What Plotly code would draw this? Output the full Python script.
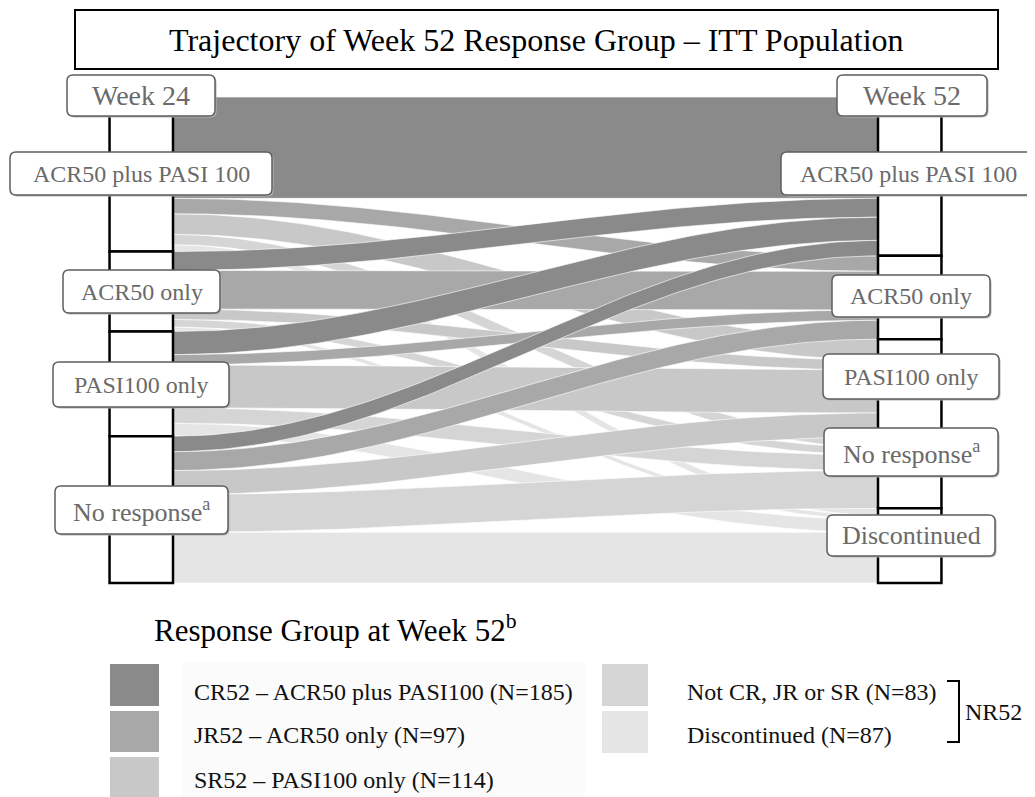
import numpy as np
import plotly.graph_objects as go

# ---------------- data ----------------
week24_groups = ["ACR50 plus PASI 100", "ACR50 only", "PASI100 only", "No response<sup>a</sup>"]
week52_groups = ["ACR50 plus PASI 100", "ACR50 only", "PASI100 only", "No response<sup>a</sup>", "Discontinued"]
legend_codes = ["CR52 – ACR50 plus PASI100", "JR52 – ACR50 only", "SR52 – PASI100 only",
                "Not CR, JR or SR", "Discontinued"]
legend_n = [185, 97, 114, 83, 87]
# patients moving from each Week 24 group (rows) to each Week 52 group (columns)
flow_acr_pasi = [118, 18, 24, 12, 8]
flow_acr_only = [22, 45, 12, 9, 5]
flow_pasi_only = [27, 12, 50, 18, 15]
flow_no_resp = [18, 22, 28, 44, 59]
flows = [flow_acr_pasi, flow_acr_only, flow_pasi_only, flow_no_resp]
group_colors = ["#8a8a8a", "#a8a8a8", "#c8c8c8", "#d5d5d5", "#e5e5e5"]

# ---------------- geometry helpers ----------------
OFF = 8  # page body margin of the html page
W, H = 1035 - OFF, 797 - OFF
FONT = "Liberation Serif, Times New Roman, serif"
F = np.array(flows, dtype=float)
src_tot = F.sum(axis=1)
tgt_tot = F.sum(axis=0)
total = F.sum()
src_cum = np.concatenate([[0], np.cumsum(src_tot)])
tgt_cum = np.concatenate([[0], np.cumsum(tgt_tot)])

# axes: x in stage units (0 = Week 24 edge, 1 = Week 52 edge), y in patients
px_per_x = 705.0
x_left_px = 173.0 - OFF
y_top_px = 97.0 - OFF
px_per_pt = 486.0 / total
x_range = [-x_left_px / px_per_x, (W - x_left_px) / px_per_x]
y_range = [(H - y_top_px) / px_per_pt, -y_top_px / px_per_pt]

# ribbon intervals
left_int = {}
off = src_cum[:-1].copy()
for i in range(F.shape[0]):
    for j in range(F.shape[1]):
        left_int[(i, j)] = (off[i], off[i] + F[i, j])
        off[i] += F[i, j]
right_int = {}
off = tgt_cum[:-1].copy()
for j in range(F.shape[1]):
    for i in range(F.shape[0]):
        right_int[(i, j)] = (off[j], off[j] + F[i, j])
        off[j] += F[i, j]

fig = go.Figure()
t = np.linspace(0, 1, 90)
s = (1 - np.cos(np.pi * t)) / 2
for j in reversed(range(F.shape[1])):
    for i in range(F.shape[0]):
        if F[i, j] <= 0:
            continue
        l0, l1 = left_int[(i, j)]
        r0, r1 = right_int[(i, j)]
        top = l0 + (r0 - l0) * s
        bot = l1 + (r1 - l1) * s
        fig.add_trace(go.Scatter(
            x=np.concatenate([t, t[::-1]]), y=np.concatenate([top, bot[::-1]]),
            mode="lines", fill="toself", fillcolor=group_colors[j],
            line=dict(color="rgba(255,255,255,0.9)", width=0.7),
            hoverinfo="skip", showlegend=False))

shapes = []
annotations = []
NODE_W = 0.09
for i in range(len(src_tot)):
    shapes.append(dict(type="rect", xref="x", yref="y", x0=-NODE_W, x1=0,
                       y0=src_cum[i], y1=src_cum[i + 1],
                       line=dict(color="black", width=2.5), fillcolor="white", layer="above"))
for j in range(len(tgt_tot)):
    shapes.append(dict(type="rect", xref="x", yref="y", x0=1, x1=1 + NODE_W,
                       y0=tgt_cum[j], y1=tgt_cum[j + 1],
                       line=dict(color="black", width=2.5), fillcolor="white", layer="above"))


def px(x):
    return (x - OFF) / W


def py(y):
    return 1 - (y - OFF) / H


def P(x, y):
    return f"{px(x):.5f},{py(y):.5f}"


def rrect(x0, y0, x1, y1, r=6):
    return ("M" + P(x0 + r, y0) + " L" + P(x1 - r, y0) + " Q" + P(x1, y0) + " " + P(x1, y0 + r) +
            " L" + P(x1, y1 - r) + " Q" + P(x1, y1) + " " + P(x1 - r, y1) +
            " L" + P(x0 + r, y1) + " Q" + P(x0, y1) + " " + P(x0, y1 - r) +
            " L" + P(x0, y0 + r) + " Q" + P(x0, y0) + " " + P(x0 + r, y0) + " Z")


def box_shapes(x0, y0, x1, y1):
    shapes.append(dict(type="path", xref="paper", yref="paper", path=rrect(x0 + 1.5, y0 + 1.5, x1 + 1.5, y1 + 1.5),
                       line=dict(width=0), fillcolor="#b5b5b5", layer="above"))
    shapes.append(dict(type="path", xref="paper", yref="paper", path=rrect(x0, y0, x1, y1),
                       line=dict(color="#5e5e5e", width=1.5), fillcolor="white", layer="above"))


def label_box(text, x0, y0, x1, y1, size=24, xc=None):
    box_shapes(x0, y0, x1, y1)
    if xc is None:
        xc = (x0 + x1) / 2
    annotations.append(dict(x=px(xc), y=py((y0 + y1) / 2), xref="paper", yref="paper",
                            text=text, showarrow=False, xanchor="center", yanchor="middle",
                            font=dict(family=FONT, size=size, color="#6a6a6a")))


label_box("Week 24", 67, 75, 215, 116, 28)
label_box("Week 52", 837, 75, 987, 116, 28)
left_boxes = [(10, 152, 272, 195, 24), (63, 270, 220, 313, 24), (53, 362, 229, 407, 24), (55, 486, 228, 534, 26)]
right_boxes = [(781, 152, 1040, 195, 24), (832, 275, 990, 317, 24), (823, 354, 999, 399, 24),
               (824, 428, 998, 476, 26), (827, 515, 995, 556, 26)]
for name, b in zip(week24_groups, left_boxes):
    label_box(name, *b)
for name, b in zip(week52_groups, right_boxes):
    x0, y0, x1, y1, sz = b
    # the top-right box runs off the right edge; its text sits on the visible part
    label_box(name, x0, y0, x1, y1, sz, xc=908 if x1 > 1035 else None)

# title box
shapes.append(dict(type="rect", xref="paper", yref="paper", x0=px(75), x1=px(998), y0=py(69), y1=py(10),
                   line=dict(color="black", width=2), fillcolor="white", layer="above"))
annotations.append(dict(x=px(536.5), y=py(40), xref="paper", yref="paper",
                        text="Trajectory of Week 52 Response Group – ITT Population", showarrow=False,
                        xanchor="center", yanchor="middle", font=dict(family=FONT, size=32, color="black")))

# legend
annotations.append(dict(x=px(152), y=py(628), xref="paper", yref="paper",
                        text="Response Group at Week 52<sup>b</sup>", showarrow=False,
                        xanchor="left", yanchor="middle", font=dict(family=FONT, size=31, color="black")))
shapes.append(dict(type="rect", xref="paper", yref="paper", x0=px(182), x1=px(585), y0=py(800), y1=py(663),
                   line=dict(width=0), fillcolor="#fbfbfb", layer="above"))
sw_pos = [(110, 664, 159, 706), (110, 711, 159, 752), (110, 757, 159, 800),
          (602, 664, 648, 706), (602, 711, 648, 753)]
txt_pos = [(192, 692), (192, 735), (192, 780), (685, 692), (685, 735)]
for k in range(5):
    x0, y0, x1, y1 = sw_pos[k]
    shapes.append(dict(type="rect", xref="paper", yref="paper", x0=px(x0), x1=px(x1), y0=py(y1), y1=py(y0),
                       line=dict(width=0), fillcolor=group_colors[k], layer="above"))
    tx, ty = txt_pos[k]
    annotations.append(dict(x=px(tx), y=py(ty), xref="paper", yref="paper",
                            text=f"{legend_codes[k]} (N={legend_n[k]})", showarrow=False,
                            xanchor="left", yanchor="middle", font=dict(family=FONT, size=24, color="#111111")))
shapes.append(dict(type="path", xref="paper", yref="paper",
                   path="M" + P(947, 681) + " L" + P(959, 681) + " L" + P(959, 742) + " L" + P(947, 742),
                   line=dict(color="black", width=2), layer="above"))
annotations.append(dict(x=px(963), y=py(712), xref="paper", yref="paper", text="NR52", showarrow=False,
                        xanchor="left", yanchor="middle", font=dict(family=FONT, size=24, color="#111111")))

fig.update_layout(
    width=W, height=H, margin=dict(l=0, r=0, t=0, b=0),
    paper_bgcolor="white", plot_bgcolor="white",
    xaxis=dict(range=x_range, visible=False, fixedrange=True),
    yaxis=dict(range=y_range, visible=False, fixedrange=True),
    shapes=shapes, annotations=annotations, showlegend=False,
)
fig.write_html("out.html")
